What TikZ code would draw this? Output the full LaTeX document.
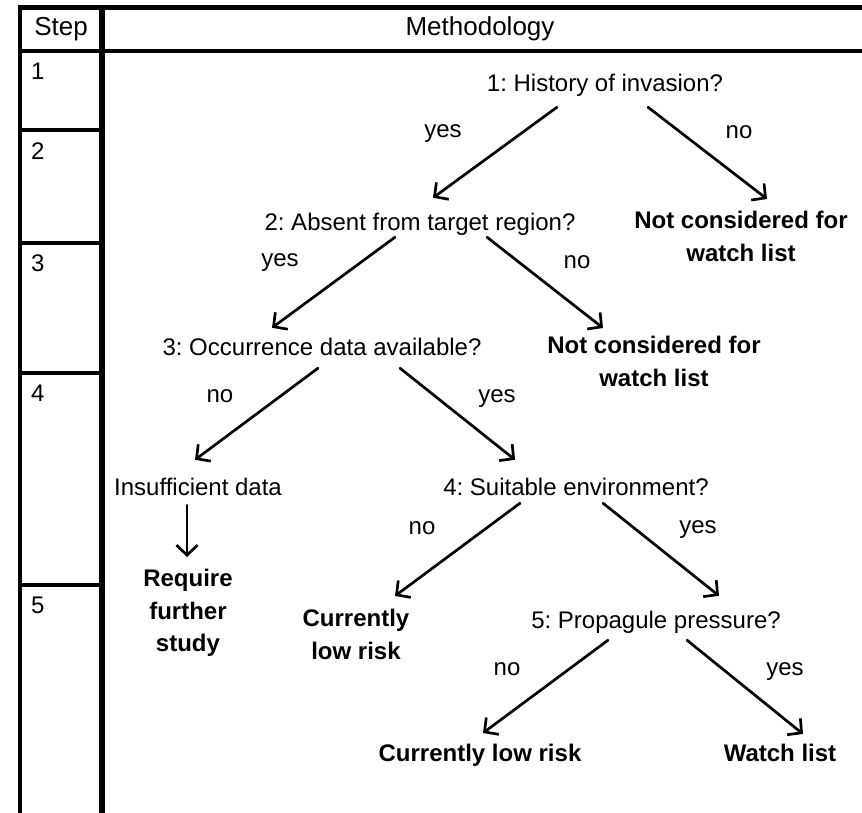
\documentclass[tikz,border=0pt]{standalone}
\usepackage{fontspec}
\setmainfont{Liberation Sans}
\usetikzlibrary{arrows.meta}
\frenchspacing
\newcommand{\diagfont}{\fontsize{24}{32.5}\selectfont}
\begin{document}
\begin{tikzpicture}[x=1pt,y=-1pt,line join=round,line cap=round,>={Straight Barb[length=10pt,width=21pt]}]
            \tikzset{txt/.style={font=\diagfont,inner sep=0pt,text height=17pt,text depth=5pt},
                     res/.style={font=\diagfont\bfseries,inner sep=0pt,align=center,anchor=north},
                     head/.style={font=\fontsize{26}{30}\selectfont,inner sep=0pt,text height=18pt,text depth=5.5pt},
                     arr/.style={->,line width=2.7pt},
                     frame/.style={line width=4pt,line cap=butt}}
            \useasboundingbox (0,0) rectangle (862,813);
            % table
            \draw[frame,line width=5pt] (18,7.5)--(862,7.5);
            \draw[frame] (18,51.5)--(862,51.5);
            \draw[frame,line width=3.5pt] (20,5)--(20,813);
            \draw[frame,line width=5.5pt] (102,5)--(102,813);
            \foreach \y in {130,243,373,584.5}
            \draw[frame] (20,\y)--(102,\y);
            \node[head] (step) at (61,29) {Step};
            \node[head] (meth) at (480,29) {Methodology};
            \foreach \n/\y in {1/74,2/154,3/265,4/395,5/607}
            \node[txt,anchor=west] (s\n) at (31,\y) {\n};
            % questions
            \node[txt] (q1) at (605,86) {1: History of invasion?};
            \node[txt] (q2) at (420,224) {2: Absent from target region?};
            \node[txt] (q3) at (322,349) {3: Occurrence data available?};
            \node[txt] (ins) at (198,489) {Insufficient data};
            \node[txt] (q4) at (576,489) {4: Suitable environment?};
            \node[txt] (q5) at (656,622) {5: Propagule pressure?};
            % outcomes
            \node[res] (not1) at (741,211) {Not considered for\\watch list};
            \node[res] (not2) at (654,336) {Not considered for\\watch list};
            \node[res] (study) at (188,569) {Require\\further\\study};
            \node[res] (low1) at (356,609) {Currently\\low risk};
            \node[res] (low2) at (480,744) {Currently low risk};
            \node[res] (watch) at (780,744) {Watch list};
            % answers
            \node[txt] (a1y) at (443,132) {yes};
            \node[txt] (a1n) at (739,133) {no};
            \node[txt] (a2y) at (280,260) {yes};
            \node[txt] (a2n) at (577,262) {no};
            \node[txt] (a3n) at (220,396) {no};
            \node[txt] (a3y) at (497,396) {yes};
            \node[txt] (a4n) at (422,528) {no};
            \node[txt] (a4y) at (698,527) {yes};
            \node[txt] (a5n) at (507,669) {no};
            \node[txt] (a5y) at (785,669) {yes};
            % arrows
            \draw[arr] ([xshift=-48pt,yshift=-10pt]q1.south)--([xshift=13pt,yshift=15pt]q2.north);
            \draw[arr] ([xshift=43pt,yshift=-10pt]q1.south)--([xshift=26pt,yshift=12pt]not1.north);
            \draw[arr] ([xshift=-25pt,yshift=-2pt]q2.south)--([xshift=-50pt,yshift=10pt]q3.north);
            \draw[arr] ([xshift=67pt,yshift=-2pt]q2.south)--([xshift=-51pt,yshift=8pt]not2.north);
            \draw[arr] ([xshift=-4pt,yshift=-8pt]q3.south)--([xshift=-3pt,yshift=18pt]ins.north);
            \draw[arr] ([xshift=78pt,yshift=-8pt]q3.south)--([xshift=-61pt,yshift=18pt]q4.north);
            \draw[arr] ([xshift=-11pt,yshift=-5pt]ins.south)--([xshift=-1pt,yshift=12pt]study.north);
            \draw[arr] ([xshift=-56pt,yshift=-3pt]q4.south)--([xshift=39pt,yshift=13pt]low1.north);
            \draw[arr] ([xshift=27pt,yshift=-3pt]q4.south)--([xshift=63pt,yshift=15pt]q5.north);
            \draw[arr] ([xshift=-48pt,yshift=-7pt]q5.south)--([xshift=3pt,yshift=11pt]low2.north);
            \draw[arr] ([xshift=31pt,yshift=-7pt]q5.south)--([xshift=23pt,yshift=10pt]watch.north);
\end{tikzpicture}
\end{document}
